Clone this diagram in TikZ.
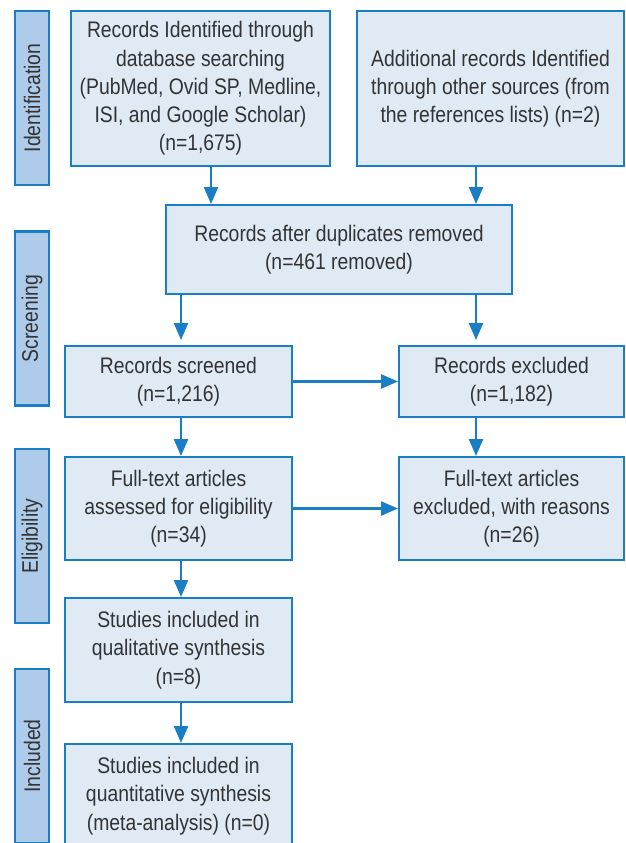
\documentclass[tikz,border=0pt]{standalone}
\usepackage{fontspec}
\setmainfont{Liberation Sans}[FakeStretch=0.86]
\usetikzlibrary{arrows.meta}
\definecolor{boxfill}{HTML}{E0EAF5}
\definecolor{sidefill}{HTML}{AECBEA}
\definecolor{edge}{HTML}{1A7EC5}
\definecolor{txt}{HTML}{333333}
\tikzset{
  box/.style={draw=edge, fill=boxfill, line width=2.3pt, inner sep=0pt, outer sep=0pt,
    align=center, text=txt, font=\fontsize{22.5}{28.3}\selectfont},
  side/.style={draw=edge, fill=sidefill, line width=2.3pt, inner sep=0pt, outer sep=0pt,
    rotate=90, minimum width=174pt, minimum height=34pt, text=txt,
    font=\fontsize{22.5}{28.3}\selectfont},
  arr/.style={draw=edge, line width=2.4pt, -{Triangle[length=17pt,width=14pt]}, shorten >=1pt}
}
\begin{document}
\begin{tikzpicture}[x=1pt,y=-1pt]
\useasboundingbox (0,0) rectangle (625,843);
\clip (0,0) rectangle (625,843);
\fill[white] (0,0) rectangle (625,843);

% phase labels
\node[side] (sid) at (32,98) {Identification};
\node[side] (sscr) at (32,318.5) {Screening};
\node[side] (selig) at (32,536) {Eligibility};
\node[side] (sinc) at (32,756) {Included};

% boxes
\node[box, minimum width=259pt, minimum height=155pt] (b1) at (200.5,88.5)
  {Records Identified through\\database searching\\(PubMed, Ovid SP, Medline,\\ISI, and Google Scholar)\\(n=1,675)};
\node[box, minimum width=267pt, minimum height=155pt] (b2) at (490.5,88.5)
  {Additional records Identified\\through other sources (from\\the references lists) (n=2)};
\node[box, minimum width=346pt, minimum height=89pt] (b3) at (339,249.5)
  {Records after duplicates removed\\(n=461 removed)};
\node[box, minimum width=227pt, minimum height=71pt] (scr) at (178.5,381.5)
  {Records screened\\(n=1,216)};
\node[box, minimum width=225pt, minimum height=71pt] (exc) at (511.5,381.5)
  {Records excluded\\(n=1,182)};
\node[box, minimum width=227pt, minimum height=103pt] (ft) at (178.5,508.5)
  {Full-text articles\\assessed for eligibility\\(n=34)};
\node[box, minimum width=225pt, minimum height=103pt] (fte) at (511.5,508.5)
  {Full-text articles\\excluded, with reasons\\(n=26)};
\node[box, minimum width=227pt, minimum height=104pt] (qual) at (178.5,650)
  {Studies included in\\qualitative synthesis\\(n=8)};
\node[box, minimum width=227pt, minimum height=104pt] (quant) at (178.5,796)
  {Studies included in\\quantitative synthesis\\(meta-analysis) (n=0)};

% connector columns
\coordinate (xl) at (181,0);
\coordinate (x1) at (211,0);
\coordinate (xr) at (476,0);

\draw[arr] (b1.south -| x1) -- (b3.north -| x1);
\draw[arr] (b2.south -| xr) -- (b3.north -| xr);
\draw[arr, shorten >=6pt] (b3.south -| xl) -- (scr.north -| xl);
\draw[arr, shorten >=6pt] (b3.south -| xr) -- (exc.north -| xr);
\draw[arr] (scr.south -| xl) -- (ft.north -| xl);
\draw[arr] (exc.south -| xr) -- (fte.north -| xr);
\draw[arr] (scr.east) -- (exc.west);
\draw[arr] (ft.east) -- (fte.west);
\draw[arr] (ft.south -| xl) -- (qual.north -| xl);
\draw[arr] (qual.south -| xl) -- (quant.north -| xl);
\end{tikzpicture}
\end{document}
